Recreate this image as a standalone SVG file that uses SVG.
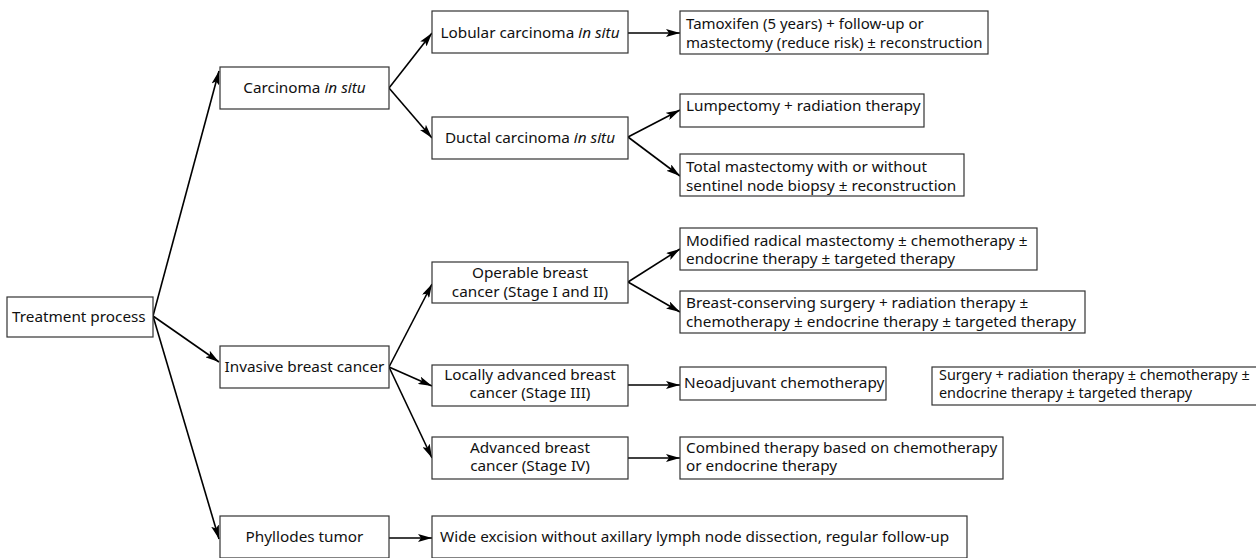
<svg xmlns="http://www.w3.org/2000/svg" width="1256" height="558" viewBox="0 0 1256 558">
<defs>
<style>
.box{fill:#fff;stroke:#333;stroke-width:1.2}
.t{font-family:"Noto Sans","Open Sans","Liberation Sans",sans-serif;font-size:15.3px;fill:#111}
.s{font-size:14.4px}
.m{font-size:15px}
.c{text-anchor:middle}
.i{font-style:italic}
.ln{stroke:#000;stroke-width:1.6;fill:none;marker-end:url(#ah)}
</style>
<marker id="ah" viewBox="0 0 14 8" refX="14" refY="4" markerWidth="14" markerHeight="8" markerUnits="userSpaceOnUse" orient="auto">
<path d="M0,0 L14,4 L0,8 L3,4 Z" fill="#000"/>
</marker>
</defs>
<rect width="1256" height="558" fill="#fff"/>
<g id="connectors">
<line class="ln" x1="153" y1="316" x2="219" y2="71"/>
<line class="ln" x1="153" y1="316" x2="219" y2="362"/>
<line class="ln" x1="153" y1="316" x2="219" y2="539"/>
<line class="ln" x1="389" y1="88" x2="432" y2="33"/>
<line class="ln" x1="389" y1="88" x2="432" y2="138"/>
<line class="ln" x1="628" y1="33" x2="680" y2="33"/>
<line class="ln" x1="628" y1="137" x2="680" y2="110"/>
<line class="ln" x1="628" y1="137" x2="680" y2="176"/>
<line class="ln" x1="389" y1="367" x2="432" y2="284"/>
<line class="ln" x1="389" y1="367" x2="432" y2="386"/>
<line class="ln" x1="389" y1="367" x2="432" y2="458"/>
<line class="ln" x1="628" y1="282" x2="680" y2="249"/>
<line class="ln" x1="628" y1="282" x2="680" y2="312"/>
<line class="ln" x1="628" y1="385" x2="680" y2="385"/>
<line class="ln" x1="628" y1="458" x2="680" y2="458"/>
<line class="ln" x1="389" y1="538" x2="432" y2="538"/>
</g>
<g id="treatment"><rect class="box" x="7" y="297" width="146" height="40"/><text class="t" x="12" y="322">Treatment process</text></g>
<g id="cis"><rect class="box" x="220" y="67" width="169" height="42"/><text class="t c" x="304.5" y="93">Carcinoma <tspan class="i">in situ</tspan></text></g>
<g id="invasive"><rect class="box" x="220" y="346" width="169" height="42"/><text class="t c" x="304.5" y="372">Invasive breast cancer</text></g>
<g id="phyllodes"><rect class="box" x="220" y="516" width="169" height="42"/><text class="t c" x="304.5" y="542">Phyllodes tumor</text></g>
<g id="lcis"><rect class="box" x="432" y="11" width="196" height="42"/><text class="t c" x="530" y="38">Lobular carcinoma <tspan class="i">in situ</tspan></text></g>
<g id="dcis"><rect class="box" x="432" y="117" width="196" height="42"/><text class="t c" x="530" y="143">Ductal carcinoma <tspan class="i">in situ</tspan></text></g>
<g id="operable"><rect class="box" x="432" y="262" width="196" height="41"/><text class="t c" x="530" y="278">Operable breast</text><text class="t c" x="530" y="297">cancer (Stage I and II)</text></g>
<g id="locally"><rect class="box" x="432" y="365" width="196" height="41"/><text class="t c" x="530" y="380">Locally advanced breast</text><text class="t c" x="530" y="398">cancer (Stage III)</text></g>
<g id="advanced"><rect class="box" x="432" y="437" width="196" height="42"/><text class="t c" x="530" y="453">Advanced breast</text><text class="t c" x="530" y="471">cancer (Stage IV)</text></g>
<g id="wide"><rect class="box" x="432" y="516" width="535" height="42"/><text class="t" x="440" y="542">Wide excision without axillary lymph node dissection, regular follow-up</text></g>
<g id="tamoxifen"><rect class="box" x="680" y="11" width="308" height="43"/><text class="t m" x="686" y="29">Tamoxifen (5 years) + follow-up or</text><text class="t m" x="686" y="48">mastectomy (reduce risk) ± reconstruction</text></g>
<g id="lumpectomy"><rect class="box" x="680" y="94" width="244" height="33"/><text class="t" x="686" y="111">Lumpectomy + radiation therapy</text></g>
<g id="total"><rect class="box" x="680" y="154" width="284" height="42"/><text class="t" x="686" y="172">Total mastectomy with or without</text><text class="t" x="686" y="191">sentinel node biopsy ± reconstruction</text></g>
<g id="modified"><rect class="box" x="680" y="228" width="357" height="42"/><text class="t" x="686" y="246">Modified radical mastectomy ± chemotherapy ±</text><text class="t" x="686" y="264">endocrine therapy ± targeted therapy</text></g>
<g id="bcs"><rect class="box" x="680" y="291" width="405" height="42"/><text class="t" x="686" y="308">Breast-conserving surgery + radiation therapy ±</text><text class="t" x="686" y="327">chemotherapy ± endocrine therapy ± targeted therapy</text></g>
<g id="neoadjuvant"><rect class="box" x="680" y="367" width="206" height="33"/><text class="t" x="684" y="388">Neoadjuvant chemotherapy</text></g>
<g id="surgery"><rect class="box" x="932" y="367" width="326" height="38"/><text class="t s" x="939" y="380">Surgery + radiation therapy ± chemotherapy ±</text><text class="t s" x="939" y="398">endocrine therapy ± targeted therapy</text></g>
<g id="combined"><rect class="box" x="680" y="437" width="323" height="42"/><text class="t" x="686" y="453">Combined therapy based on chemotherapy</text><text class="t" x="686" y="471">or endocrine therapy</text></g>
</svg>
